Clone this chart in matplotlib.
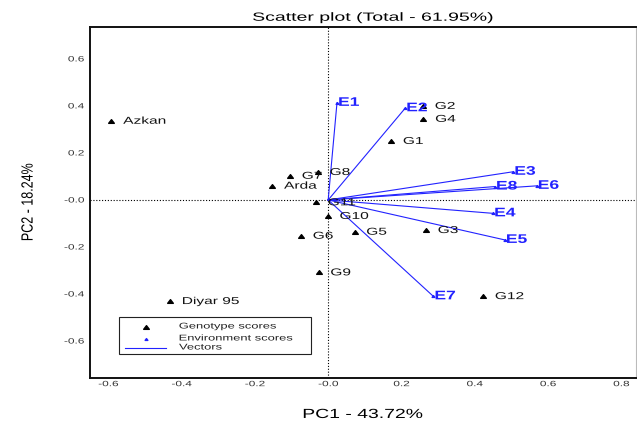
#!/usr/bin/env python3
"""
GGE biplot: genotype scores and environment vectors on PC1 / PC2.
Saves out.png (637x421).
"""

import matplotlib
matplotlib.use("Agg")
import matplotlib.pyplot as plt
from matplotlib.patches import Rectangle
from matplotlib.path import Path
from matplotlib.patheffects import AbstractPathEffect
from matplotlib.transforms import Affine2D

plt.rcParams['font.family'] = ['Liberation Sans', 'DejaVu Sans']

# ============================================================================
# Data
# ============================================================================

genotypes = ['Azkan', 'G7', 'Arda', 'G11', 'G8', 'G10', 'G6', 'G9',
             'Diyar 95', 'G5', 'G3', 'G12', 'G1', 'G4', 'G2']
geno_pc1 = [-0.592, -0.104, -0.153, -0.033, -0.028, -0.001, -0.074, -0.026,
            -0.431, 0.072, 0.267, 0.423, 0.172, 0.260, 0.259]
geno_pc2 = [0.337, 0.103, 0.061, -0.010, 0.119, -0.068, -0.152, -0.308,
            -0.430, -0.135, -0.128, -0.409, 0.251, 0.345, 0.400]

environments = ['E1', 'E2', 'E3', 'E4', 'E5', 'E6', 'E7', 'E8']
env_pc1 = [0.024, 0.210, 0.505, 0.450, 0.482, 0.569, 0.287, 0.455]
env_pc2 = [0.413, 0.390, 0.120, -0.057, -0.170, 0.060, -0.410, 0.057]

xticks = [-0.6, -0.4, -0.2, 0.0, 0.2, 0.4, 0.6, 0.8]
xtick_labels = ['-0.6', '-0.4', '-0.2', '-0.0', '0.2', '0.4', '0.6', '0.8']
yticks = [0.6, 0.4, 0.2, 0.0, -0.2, -0.4, -0.6]
ytick_labels = ['0.6', '0.4', '0.2', '-0.0', '-0.2', '-0.4', '-0.6']

title = 'Scatter plot (Total - 61.95%)'
xlabel = 'PC1 - 43.72%'
ylabel = 'PC2 - 18.24%'
legend_labels = ['Genotype scores', 'Environment scores', 'Vectors']

BLUE = '#2222ff'
STRETCH = 1.55   # the source picture is widened horizontally


# ============================================================================
# Helpers
# ============================================================================

class Stretch(AbstractPathEffect):
    """Widen a text horizontally (screen space) around its left/center/right."""

    def __init__(self, sx=STRETCH, anchor='left'):
        super().__init__()
        self.sx = sx
        self.anchor = anchor

    def draw_path(self, renderer, gc, tpath, affine, rgbFace=None):
        ext = tpath.get_extents(affine)
        x0 = {'left': ext.x0,
              'center': 0.5 * (ext.x0 + ext.x1),
              'right': ext.x1}[self.anchor]
        tr = affine + Affine2D().translate(-x0, 0).scale(self.sx, 1).translate(x0, 0)
        renderer.draw_path(gc, tpath, tr, rgbFace)


# wide, flat triangle like the ones in the source
TRI = Path([(-0.77, -0.5), (0.77, -0.5), (0.0, 0.5), (-0.77, -0.5)],
           [Path.MOVETO, Path.LINETO, Path.LINETO, Path.CLOSEPOLY])


# ============================================================================
# Plotting
# ============================================================================

def plot_biplot():
    fig = plt.figure(figsize=(6.37, 4.21), dpi=100)
    ax = fig.add_axes([0.1413, 0.1029, 0.8571, 0.8337])

    ax.set_xlim(-0.65, 0.84)
    ax.set_ylim(-0.756, 0.737)

    # reference lines through the origin
    ax.axhline(0, color='k', ls=(0, (1, 1.6)), lw=0.8, zorder=1)
    ax.axvline(0, color='k', ls=(0, (1, 1.6)), lw=0.8, zorder=1)

    # environment vectors
    for name, x, y in zip(environments, env_pc1, env_pc2):
        ax.plot([0, x], [0, y], color=BLUE, lw=0.8, zorder=2)
        t = ax.annotate(name, (x, y), xytext=(1.0, 0), textcoords='offset points',
                        ha='left', va='center', fontsize=9, fontweight='bold',
                        color=BLUE, zorder=4)
        t.set_path_effects([Stretch(sx=1.4)])
    ax.plot(env_pc1, env_pc2, ls='none', marker=TRI, ms=2.0, color=BLUE, zorder=3)

    # genotype scores
    ax.plot(geno_pc1, geno_pc2, ls='none', marker=TRI, ms=4.1, color='k', zorder=3)
    for name, x, y in zip(genotypes, geno_pc1, geno_pc2):
        t = ax.annotate(name, (x, y), xytext=(8.6, 0), textcoords='offset points',
                        ha='left', va='center', fontsize=7.2, color='#111111', zorder=4)
        t.set_path_effects([Stretch()])

    # axes, ticks
    ax.set_xticks(xticks, labels=xtick_labels)
    ax.set_yticks(yticks, labels=ytick_labels)
    ax.tick_params(length=0, labelsize=5.5, labelcolor='#333333')
    ax.tick_params(axis='x', pad=2.5)
    ax.tick_params(axis='y', pad=4.3)
    for lbl in ax.get_xticklabels():
        lbl.set_path_effects([Stretch(anchor='center')])
    for lbl in ax.get_yticklabels():
        lbl.set_path_effects([Stretch(anchor='right')])

    for side in ['left', 'bottom', 'top']:
        ax.spines[side].set_linewidth(1.4)
        ax.spines[side].set_color('#111111')
    ax.spines['right'].set_linewidth(0.8)
    ax.spines['right'].set_color('#bbbbbb')

    ax.set_xlabel(xlabel, fontsize=9.5, va='baseline')
    ax.xaxis.set_label_coords(0.5, -0.1148)
    ax.xaxis.label.set_path_effects([Stretch(sx=1.47, anchor='center')])

    ax.set_ylabel(ylabel, fontsize=9, va='center')
    ax.yaxis.set_label_coords(-0.113, 0.5)
    ax.yaxis.label.set_path_effects([Stretch(sx=1.3, anchor='center')])

    t = fig.text(0.5848, 0.9508, title, ha='center', va='baseline', fontsize=8.5)
    t.set_path_effects([Stretch(sx=1.65, anchor='center')])

    # legend box, drawn by hand so it fits the widened text
    tf = ax.transAxes
    ax.add_patch(Rectangle((0.053, 0.0675), 0.352, 0.1054, transform=tf,
                           fill=False, ec='#222222', lw=0.8, zorder=5))
    ax.plot([0.1026], [0.1444], transform=tf, marker=TRI, ms=4.1, color='k', zorder=5)
    ax.plot([0.1026], [0.1103], transform=tf, marker=TRI, ms=2.0, color=BLUE, zorder=5)
    ax.plot([0.0641, 0.1392], [0.0846, 0.0846], transform=tf, color=BLUE, lw=0.8, zorder=5)
    for label, yy in zip(legend_labels, [0.1444, 0.1103, 0.0846]):
        t = ax.text(0.163, yy, label, transform=tf, ha='left', va='center',
                    fontsize=6, color='#222222', zorder=5)
        t.set_path_effects([Stretch()])

    fig.savefig('out.png', dpi=100)
    plt.close(fig)


def main():
    plot_biplot()
    print("Saved: out.png")


if __name__ == "__main__":
    main()
